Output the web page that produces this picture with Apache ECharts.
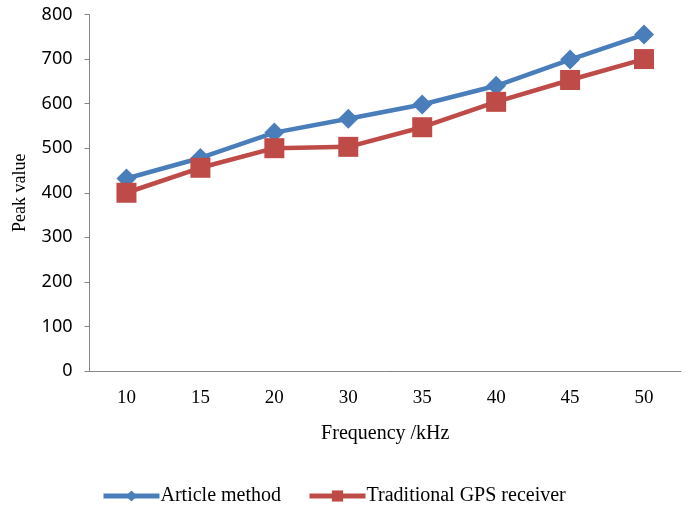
<!DOCTYPE html>
<html><head><meta charset="utf-8">
<script src="https://cdn.jsdelivr.net/npm/echarts@6/dist/echarts.min.js"></script>
<style>html,body{margin:0;padding:0;background:#fff}#c{width:693px;height:509px}</style>
</head><body><div id="c"></div>
<script>
const categories = ['10','15','20','30','35','40','45','50'];
const articleMethod = [432, 478, 535, 566, 598, 640, 699, 755];
const traditionalGPS = [400, 456, 500, 503, 547, 604, 653, 700];
const seriesNames = ['Article method', 'Traditional GPS receiver'];

const chart = echarts.init(document.getElementById('c'));
chart.setOption({
  animation: false,
  grid: { left: 89.5, right: 12, top: 14.5, bottom: 138 },
  legend: {
    top: 481, left: 96, itemWidth: 56, itemHeight: 14, itemGap: 26,
    textStyle: { fontFamily: 'Liberation Serif', fontSize: 20, color: '#000', padding: [0, 0, 0, -4] },
    lineStyle: { width: 5 },
    data: seriesNames
  },
  xAxis: {
    type: 'category', data: categories, boundaryGap: true,
    name: 'Frequency /kHz', nameLocation: 'middle', nameGap: 53,
    nameTextStyle: { fontFamily: 'Liberation Serif', fontSize: 20, color: '#000' },
    axisLine: { lineStyle: { color: '#868686', width: 1 } },
    axisTick: { inside: true, length: 6, lineStyle: { color: '#868686' } },
    axisLabel: { fontFamily: 'Liberation Serif', fontSize: 19, color: '#000', margin: 18 }
  },
  yAxis: {
    type: 'value', min: 0, max: 800, interval: 100,
    name: 'Peak value', nameLocation: 'middle', nameGap: 60,
    nameTextStyle: { fontFamily: 'Liberation Serif', fontSize: 18, color: '#000' },
    axisLine: { show: true, lineStyle: { color: '#868686', width: 1 } },
    axisTick: { show: true, length: 5, lineStyle: { color: '#868686' } },
    splitLine: { show: false },
    axisLabel: { fontFamily: 'Noto Sans', fontSize: 18, color: '#000', margin: 17 }
  },
  series: [
    { name: seriesNames[0], type: 'line', data: articleMethod,
      symbol: 'diamond', symbolSize: 20,
      lineStyle: { color: '#4A7EBB', width: 4.5 },
      itemStyle: { color: '#4A7EBB' } },
    { name: seriesNames[1], type: 'line', data: traditionalGPS,
      symbol: 'rect', symbolSize: 20,
      lineStyle: { color: '#BE4B48', width: 4.5 },
      itemStyle: { color: '#BE4B48' } }
  ]
});
</script></body></html>
